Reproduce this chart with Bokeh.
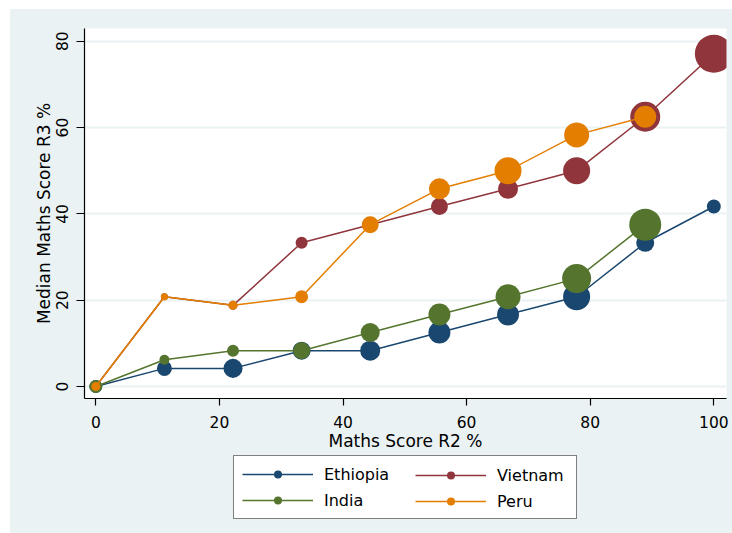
from bokeh.plotting import figure
from bokeh.layouts import column
from bokeh.models import Range1d, FixedTicker, Legend, LegendItem, ColumnDataSource
from bokeh.embed import file_html
from bokeh.resources import INLINE
import numpy as np

# ---- data ----
x_vals = [0, 11.1, 22.2, 33.3, 44.4, 55.6, 66.7, 77.8, 88.9, 100]

eth_y = [0, 4.2, 4.2, 8.3, 8.3, 12.5, 16.7, 20.8, 33.3, 41.7]
eth_n = [27, 36, 58, 52, 64, 77, 77, 117, 52, 31]

vie_y = [0, 20.8, 18.8, 33.3, 37.5, 41.7, 45.8, 50.0, 62.5, 77.1]
vie_n = [13, 8, 13, 23, 40, 46, 64, 117, 144, 231]

ind_y = [0, 6.2, 8.3, 8.3, 12.5, 16.7, 20.8, 25.0, 37.5]
ind_n = [27, 16, 23, 46, 58, 77, 100, 135, 164]

per_y = [0, 20.8, 18.8, 20.8, 37.5, 45.8, 50.0, 58.3, 62.5]
per_n = [13, 8, 13, 27, 46, 71, 117, 100, 77]

countries = ["Ethiopia", "Vietnam", "India", "Peru"]
legend_col1 = ["Ethiopia", "India"]
legend_col2 = ["Vietnam", "Peru"]
x_ticks = [0, 20, 40, 60, 80, 100]
y_ticks = [0, 20, 40, 60, 80]

colors = {"Ethiopia": "#1a476f", "Vietnam": "#90353b", "India": "#55752f", "Peru": "#e37e00"}
series = {
    "Ethiopia": (eth_y, eth_n),
    "Vietnam": (vie_y, vie_n),
    "India": (ind_y, ind_n),
    "Peru": (per_y, per_n),
}

BG = "#eaf2f3"
FONT = "DejaVu Sans"

# ---------------- main plot ----------------
p = figure(width=722, height=444, output_backend="svg", toolbar_location=None,
           x_range=Range1d(-1.83, 102.05), y_range=Range1d(-2.78, 82.95),
           min_border_left=74, min_border_top=19, min_border_right=6, min_border_bottom=55)
p.background_fill_color = "white"
p.border_fill_color = BG
p.outline_line_color = None

p.xaxis.ticker = FixedTicker(ticks=x_ticks)
p.yaxis.ticker = FixedTicker(ticks=y_ticks)
p.xaxis.axis_label = "Maths Score R2 %"
p.yaxis.axis_label = "Median Maths Score R3 %"
for ax in (p.xaxis, p.yaxis):
    ax.axis_line_color = "black"
    ax.axis_line_width = 1.2
    ax.major_tick_line_color = "black"
    ax.major_tick_line_width = 1.2
    ax.major_tick_out = 7
    ax.major_tick_in = 0
    ax.minor_tick_out = 0
    ax.minor_tick_in = 0
    ax.major_label_text_font = FONT
    ax.major_label_text_font_size = "15.5px"
    ax.major_label_text_color = "black"
    ax.axis_label_text_font = FONT
    ax.axis_label_text_font_size = "17px"
    ax.axis_label_text_font_style = "normal"
    ax.axis_label_text_color = "black"
    ax.axis_label_standoff = 0
    ax.major_label_standoff = 8
p.xaxis.major_label_standoff = 10
p.yaxis.major_tick_out = 8
p.yaxis.major_label_orientation = "vertical"

p.xgrid.grid_line_color = None
p.ygrid.ticker = FixedTicker(ticks=y_ticks)
p.ygrid.grid_line_color = BG
p.ygrid.grid_line_width = 2

for c in countries:
    ys, ns = series[c]
    xs = x_vals[:len(ys)]
    sizes = list(2.5 * np.sqrt(np.array(ns, dtype=float)))
    src = ColumnDataSource(dict(x=xs, y=ys, s=sizes))
    p.line("x", "y", source=src, line_color=colors[c], line_width=1.5)
    p.scatter("x", "y", source=src, size="s", fill_color=colors[c], line_color=colors[c], line_width=0)

# ---------------- legend strip ----------------
# the strip's ranges lie away from the data, so its renderers only feed the legend
q = figure(width=722, height=80, output_backend="svg", toolbar_location=None,
           x_range=Range1d(-300, -200), y_range=Range1d(-300, -200),
           x_axis_location=None, y_axis_location=None,
           min_border_left=0, min_border_right=0, min_border_top=0, min_border_bottom=0)
q.background_fill_color = BG
q.border_fill_color = BG
q.outline_line_color = None
q.grid.visible = False

legend_items = {}
for c in countries:
    ys, ns = series[c]
    src = ColumnDataSource(dict(x=x_vals[:len(ys)], y=ys))
    rl = q.line("x", "y", source=src, line_color=colors[c], line_width=1.5)
    rs = q.scatter("x", "y", source=src, size=10, fill_color=colors[c], line_color=colors[c], line_width=0)
    legend_items[c] = LegendItem(label=c, renderers=[rl, rs])

common = dict(orientation="vertical", glyph_width=71, glyph_height=20,
              label_standoff=11, label_text_font=FONT, label_text_font_size="16px",
              label_text_color="black", padding=8, spacing=6, margin=0)

# first column carries the frame of the whole legend box
leg1 = Legend(items=[legend_items[c] for c in legend_col1], location=(149, 14),
              label_width=244, border_line_color="black", border_line_width=1,
              background_fill_color="white", background_fill_alpha=1.0, **common)
# second column drawn inside that box (no border, so no padding is applied)
leg2 = Legend(items=[legend_items[c] for c in legend_col2], location=(331, 22),
              label_width=20, border_line_color=None,
              background_fill_alpha=0.0, **common)
q.add_layout(leg1, "center")
q.add_layout(leg2, "center")

layout = column(p, q, spacing=0, margin=(9, 0, 0, 10))
layout.styles = {"background-color": BG}

open("out.html", "w").write(file_html(layout, INLINE))
